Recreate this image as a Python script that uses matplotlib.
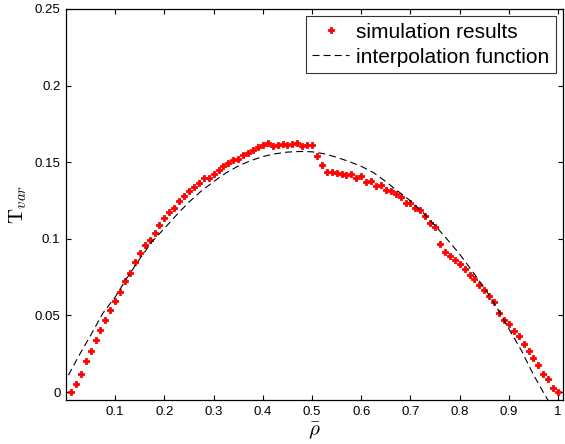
import numpy as np
import matplotlib
matplotlib.use("Agg")
import matplotlib.pyplot as plt

plt.rcParams['font.family'] = ['Liberation Sans', 'DejaVu Sans']
plt.rcParams['mathtext.fontset'] = 'cm'
plt.rcParams['lines.scale_dashes'] = False

# simulation results (rho_bar = 0.01 ... 1.00)
rho_sim = np.round(np.arange(1, 101) * 0.01, 2)
t_sim = [
    0.0000, 0.0052, 0.0116, 0.0200, 0.0266, 0.0337, 0.0408, 0.0472, 0.0534, 0.0591,
    0.0650, 0.0724, 0.0775, 0.0848, 0.0906, 0.0958, 0.0991, 0.1035, 0.1089, 0.1133,
    0.1172, 0.1204, 0.1249, 0.1280, 0.1312, 0.1335, 0.1367, 0.1397, 0.1397, 0.1421,
    0.1447, 0.1474, 0.1498, 0.1517, 0.1524, 0.1547, 0.1563, 0.1582, 0.1599, 0.1612,
    0.1628, 0.1604, 0.1615, 0.1621, 0.1615, 0.1621, 0.1628, 0.1608, 0.1615, 0.1615,
    0.1539, 0.1480, 0.1439, 0.1439, 0.1432, 0.1426, 0.1419, 0.1426, 0.1400, 0.1408,
    0.1374, 0.1380, 0.1347, 0.1354, 0.1321, 0.1315, 0.1295, 0.1273, 0.1237, 0.1237,
    0.1198, 0.1185, 0.1146, 0.1100, 0.1074, 0.0967, 0.0917, 0.0891, 0.0859, 0.0833,
    0.0800, 0.0767, 0.0735, 0.0696, 0.0663, 0.0624, 0.0585, 0.0513, 0.0467, 0.0441,
    0.0396, 0.0363, 0.0311, 0.0265, 0.0220, 0.0174, 0.0115, 0.0083, 0.0026, 0.0000,
]

# interpolation function
rho_fit = [0.005, 0.025, 0.05, 0.075, 0.10, 0.125, 0.15, 0.175, 0.20, 0.225,
           0.25, 0.275, 0.30, 0.325, 0.35, 0.375, 0.40, 0.425, 0.45, 0.475,
           0.50, 0.525, 0.55, 0.575, 0.60, 0.625, 0.65, 0.675, 0.70, 0.725,
           0.75, 0.775, 0.80, 0.825, 0.85, 0.875, 0.90, 0.925, 0.95, 0.975, 0.98]
t_fit = [0.0110, 0.0230, 0.0370, 0.0515, 0.0620, 0.0750, 0.0870, 0.0982, 0.1068, 0.1157,
         0.1240, 0.1312, 0.1373, 0.1430, 0.1475, 0.1510, 0.1537, 0.1555, 0.1566, 0.1570,
         0.1568, 0.1555, 0.1532, 0.1505, 0.1473, 0.1432, 0.1373, 0.1310, 0.1248, 0.1172,
         0.1087, 0.0995, 0.0900, 0.0792, 0.0680, 0.0555, 0.0412, 0.0274, 0.0113, -0.0030, -0.0055]

xticks = [0.1, 0.2, 0.3, 0.4, 0.5, 0.6, 0.7, 0.8, 0.9, 1.0]
xtick_labels = ['0.1', '0.2', '0.3', '0.4', '0.5', '0.6', '0.7', '0.8', '0.9', '1']
yticks = [0, 0.05, 0.1, 0.15, 0.2, 0.25]
ytick_labels = ['0', '0.05', '0.1', '0.15', '0.2', '0.25']

fig = plt.figure(figsize=(5.65, 4.44), dpi=100)
ax = fig.add_axes([66 / 565, 44 / 444, (563 - 66) / 565, (400 - 9) / 444])

ax.plot(rho_sim, t_sim, linestyle='none', marker='P', markersize=4.0,
        color='#ff0000', markeredgecolor='#ff0000', markeredgewidth=0.6,
        label='simulation results')
ax.plot(rho_fit, t_fit, color='black', linewidth=0.8, dashes=(5, 3),
        label='interpolation function')

ax.set_xlim(0, 1.01)
ax.set_ylim(-0.0052, 0.25)
ax.set_xticks(xticks)
ax.set_xticklabels(xtick_labels)
ax.set_yticks(yticks)
ax.set_yticklabels(ytick_labels)
ax.tick_params(direction='in', length=3.5, width=0.8, top=True, right=True,
               labelsize=9.5, pad=4)
for s in ax.spines.values():
    s.set_linewidth(0.9)

ax.set_xlabel(r'$\bar{\rho}$', fontsize=15, labelpad=2)
ax.set_ylabel(r'$\mathrm{T}_{var}$', fontsize=15, labelpad=4)

leg = ax.legend(loc='upper right', fontsize=15, frameon=True, fancybox=False,
                borderpad=0.3, labelspacing=0.3, handlelength=1.75,
                handletextpad=0.35, borderaxespad=0.35, numpoints=1)
leg.get_frame().set_edgecolor('black')
leg.get_frame().set_linewidth(0.8)

fig.savefig('out.png', dpi=100)
